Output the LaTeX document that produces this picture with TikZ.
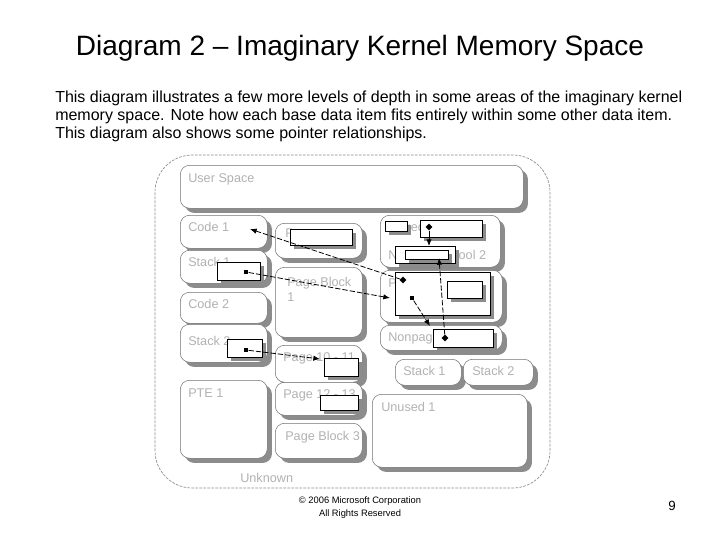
\documentclass[tikz,border=0pt]{standalone}
\usepackage{fontspec}
\setmainfont{Liberation Sans}
\usetikzlibrary{shadows,arrows.meta}
\newcommand\bx[6]{\node[#2,anchor=north west,minimum width={(#5-#3)*0.75pt},minimum height={(#6-#4)*0.75pt}] (#1) at (#3,#4) {};}
\begin{document}
\begin{tikzpicture}[x=0.75pt,y=-0.75pt,
  rbox/.style={draw=black!55,line width=0.4pt,fill=white,rounded corners=7pt,inner sep=0pt,
     drop shadow={shadow xshift=3.5pt,shadow yshift=-3.5pt,fill=black!45,opacity=1}},
  sbox/.style={draw=black,line width=0.6pt,fill=white,inner sep=0pt,
     drop shadow={shadow xshift=3pt,shadow yshift=-3pt,fill=black!45,opacity=1}},
  lab/.style={text=black!30,font=\fontsize{9.5}{11}\selectfont,anchor=north west,inner sep=0pt},
  dot/.style={fill=black,inner sep=0pt,minimum size=3.5pt},
  con/.style={line width=0.6pt,dash pattern=on 4pt off 1.5pt,-{Latex[length=5pt,width=4pt]}},
  para/.style={anchor=west,inner sep=0pt,font=\fontsize{12}{14}\selectfont}]
\useasboundingbox (0,0) rectangle (720,540);
\fill[white] (0,0) rectangle (720,540);
\node[font=\fontsize{21}{25}\selectfont] (title) at (360,48) {Diagram 2 – Imaginary Kernel Memory Space};
\node[para] (p1) at (55,98) {This diagram illustrates a few more levels of depth in some areas of the imaginary kernel};
\node[para] (p2) at (55,116) {memory space. Note how each base data item fits entirely within some other data item.};
\node[para] (p3) at (55,134) {This diagram also shows some pointer relationships.};
% outer frame
\draw[black!45,line width=0.5pt,rounded corners=28pt,dash pattern=on 2pt off 1pt] (155,155) rectangle (550,488);
\node[lab] (lunk) at (240,473) {Unknown};
% left column
\bx{user}{rbox}{180}{165}{523}{208}
\bx{code1}{rbox}{180}{215}{267}{248}
\bx{stack1}{rbox}{180}{250}{267}{283}
\bx{code2}{rbox}{180}{292}{267}{323}
\bx{stack2}{rbox}{180}{324}{267}{362}
\bx{pte1}{rbox}{180}{380}{267}{458}
% middle column
\bx{pb0}{rbox}{275}{223}{362}{258}
\bx{pb1}{rbox}{275}{267}{362}{337}
\bx{pg10}{rbox}{275}{345}{362}{382}
\bx{pg12}{rbox}{275}{382}{362}{415}
\bx{pb3}{rbox}{275}{423}{362}{458}
% right column
\bx{pp1}{rbox}{380}{215}{500}{267}
\bx{pp2}{rbox}{380}{270}{502}{322}
\bx{np}{rbox}{380}{325}{502}{350}
\bx{st1}{rbox}{395}{359}{461}{385}
\bx{st2}{rbox}{463}{359}{533}{385}
\bx{unused}{rbox}{372}{394}{527}{467}
% labels
\node[lab] (l1) at (188,173) {User Space};
\node[lab] (l2) at (188,222) {Code 1};
\node[lab] (l3) at (188,257) {Stack 1};
\node[lab] (l4) at (188,299) {Code 2};
\node[lab] (l5) at (188,336) {Stack 2};
\node[lab] (l6) at (188,389) {PTE 1};
\node[lab] (l7) at (285,229) {P};
\node[lab] (l8) at (287,277) {Page Block};
\node[lab] (l8b) at (287,293) {1};
\node[lab] (l9) at (283,352) {Page 10 - 11};
\node[lab] (l10) at (283,389) {Page 12 - 13};
\node[lab] (l11) at (285,431) {Page Block 3};
\node[lab] (l12) at (388,222) {Paged Pool};
\node[lab] (l13) at (388,250) {Nonpaged Pool 2};
\node[lab] (l14) at (388,279) {P};
\node[lab] (l15) at (388,332) {Nonpaged};
\node[lab] (l16) at (403,366) {Stack 1};
\node[lab] (l17) at (472,366) {Stack 2};
\node[lab] (l18) at (381,402) {Unused 1};
% inner sharp boxes
\bx{i1}{sbox}{217}{262}{260}{280}
\bx{i2}{sbox}{227}{339}{262}{357}
\bx{i3}{sbox}{290}{229}{352}{245}
\bx{i4}{sbox}{324}{358}{358}{376}
\bx{i5}{sbox}{320}{395}{358}{410}
\bx{i6}{sbox}{385}{221}{407}{231}
\bx{i7}{sbox}{420}{220}{482}{237}
\bx{i8}{sbox}{395}{246}{455}{263}
\bx{i8b}{sbox}{405}{250}{448}{259}
\bx{i9}{sbox}{395}{272}{490}{315}
\bx{i10}{sbox}{447}{281}{482}{298}
\bx{i11}{sbox}{433}{329}{493}{347}
% pointers
\node[dot] (d1) at (246,272) {};
\node[dot] (d2) at (246,350) {};
\node[dot,rotate=45] (d3) at (429,227) {};
\node[dot] (d4) at (412,298) {};
\node[dot,rotate=45] (d5) at (445,338) {};
\node[dot,rotate=45] (d6) at (403,280) {};
\coordinate (t1) at (390,298);
\coordinate (t2) at (320,359);
\coordinate (t3) at (429,246);
\coordinate (t4) at (430,326);
\coordinate (t5) at (439,258);
\coordinate (t6) at (250,229);
\draw[con] (d1) -- (t1);
\draw[con] (d2) -- (t2);
\draw[con,dash pattern=] (d3) -- (t3);
\draw[con] (d4) -- (t4);
\draw[con] (d5) -- (t5);
\draw[con] (d6) -- (t6);
% footer
\node[font=\fontsize{7}{8}\selectfont] (f1) at (360,501) {© 2006 Microsoft Corporation};
\node[font=\fontsize{7}{8}\selectfont] (f2) at (360,514) {All Rights Reserved};
\node[font=\fontsize{10}{12}\selectfont] (pg) at (672,506) {9};
\end{tikzpicture}
\end{document}
